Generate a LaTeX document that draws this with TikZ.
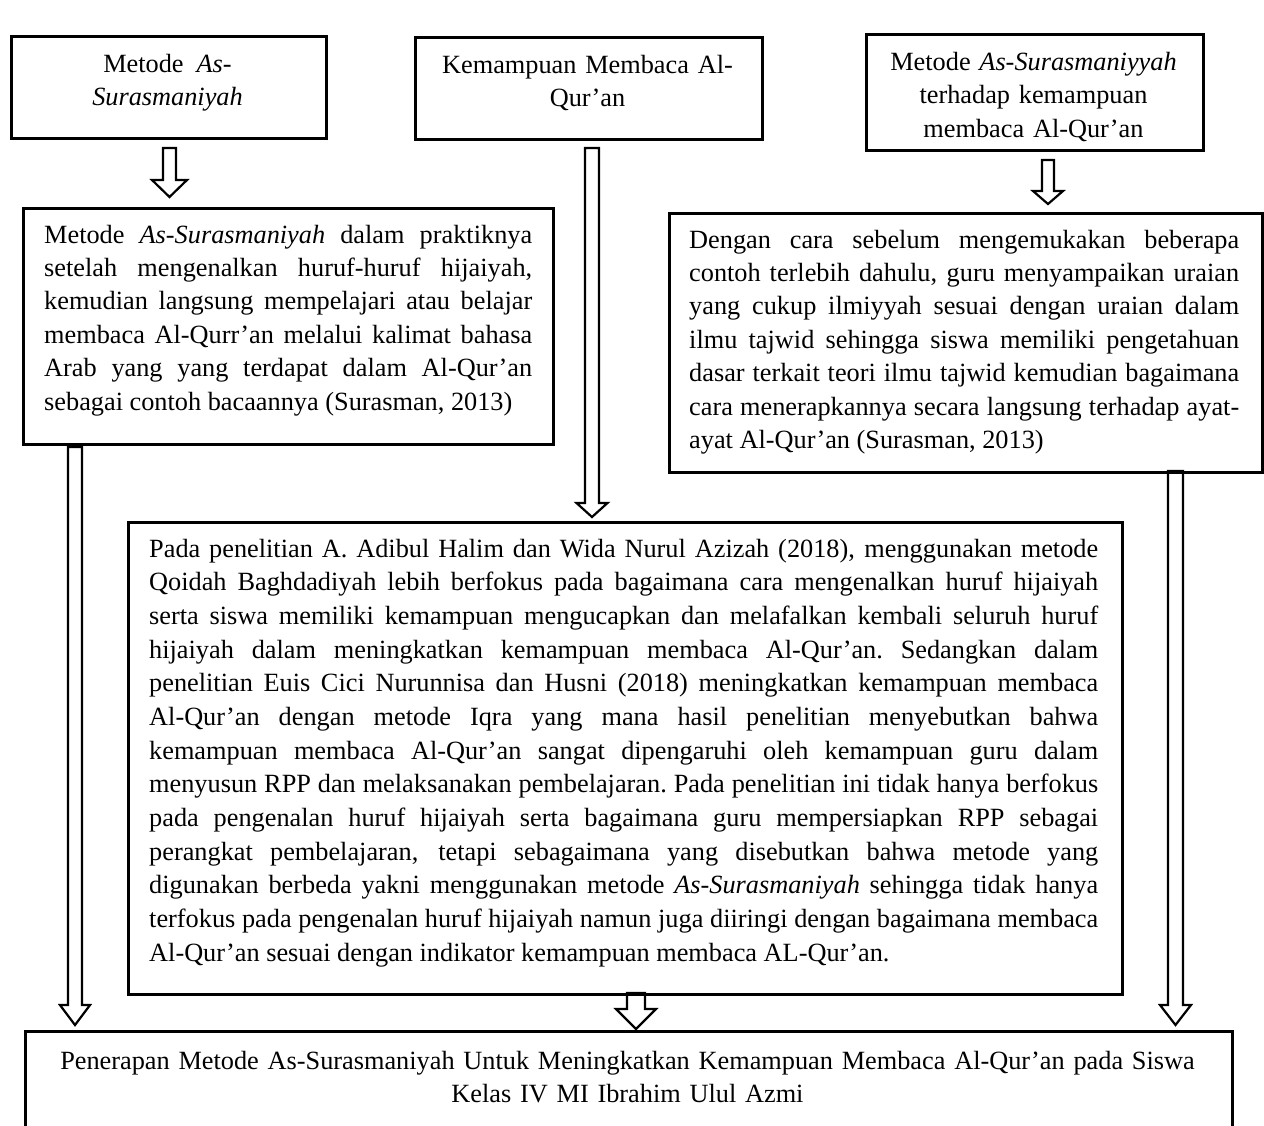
\documentclass[tikz,border=0pt]{standalone}
\usepackage{fontspec}
\setmainfont{Liberation Serif}
\usetikzlibrary{calc}
\newcommand\jsp{\spaceskip=0.25em plus 3em minus 0.1em\xspaceskip=\spaceskip}
\newcommand\jl[1]{\hbox to \hsize{\jsp\strut#1}}
\newcommand\jlast[1]{\hbox to \hsize{\spaceskip=0.25em\xspaceskip=\spaceskip\strut#1\hfil}}
\newcommand\cl[1]{\hbox to \hsize{\hfil\strut#1\hfil}}
\newcommand\blkarrow[5]{%
  \draw[barrow] let \p1=(#1), \p2=(#2) in
    (\x1-#3pt,\y1) -- (\x1+#3pt,\y1) -- (\x1+#3pt,\y2+#5pt) -- (\x1+#4pt,\y2+#5pt)
    -- (\x1,\y2) -- (\x1-#4pt,\y2+#5pt) -- (\x1-#3pt,\y2+#5pt) -- cycle;}
\tikzset{
  box/.style={draw, line width=2.8pt, inner sep=0pt, anchor=north west},
  barrow/.style={draw, fill=white, line width=2.2pt, line join=miter},
  txt/.style={inner sep=0pt, anchor=north west, font=\fontsize{26.3}{33.4}\selectfont},
  ctxt/.style={inner sep=0pt, anchor=north, font=\fontsize{26.3}{33.6}\selectfont},
}
\begin{document}
\begin{tikzpicture}[x=1pt,y=-1pt]
\fill[white] (0,0) rectangle (1264,1126);
\useasboundingbox (0,0) rectangle (1264,1126);
\clip (0,0) rectangle (1264,1126);

% arrow end points
\coordinate (a1s) at (169.5,148);  \coordinate (a1e) at (169.5,197);
\coordinate (a2s) at (592,148);    \coordinate (a2e) at (592,517);
\coordinate (a3s) at (1048,160);   \coordinate (a3e) at (1048,204);
\coordinate (a4s) at (75,447);     \coordinate (a4e) at (75,1025);
\coordinate (a5s) at (1175.5,471); \coordinate (a5e) at (1175.5,1025);
\coordinate (a6s) at (636,993);    \coordinate (a6e) at (636,1029);

\blkarrow{a1s}{a1e}{6.5}{17.5}{17}
\blkarrow{a2s}{a2e}{7}{15.5}{14}
\blkarrow{a3s}{a3e}{6}{15}{13}
\blkarrow{a4s}{a4e}{7}{15}{20}
\blkarrow{a5s}{a5e}{7.5}{15.5}{20}
\blkarrow{a6s}{a6e}{9}{20}{20}

% boxes
\node[box, minimum width=315pt, minimum height=102pt] (b1) at (10,35) {};
\node[box, minimum width=347pt, minimum height=102pt] (b2) at (414,36) {};
\node[box, minimum width=337pt, minimum height=116pt] (b3) at (865,33) {};
\node[box, minimum width=530pt, minimum height=236pt] (b4) at (22,207) {};
\node[box, minimum width=593pt, minimum height=259pt] (b5) at (668,212) {};
\node[box, minimum width=994pt, minimum height=472pt] (b6) at (127,521) {};
\node[box, minimum width=1207pt, minimum height=130pt] (b7) at (24,1030) {};

% texts
\node[ctxt, text width=300pt] (t1) at (167.5,48.5) {%
\cl{Metode\hspace{13pt}\textit{As-}}
\cl{\textit{Surasmaniyah}}};
\node[ctxt, text width=330pt] (t2) at (587.5,49.5) {%
\cl{Kemampuan Membaca Al-}
\cl{Qur’an}};
\node[ctxt, text width=330pt] (t3) at (1033.5,46.5) {%
\cl{Metode \textit{As-Surasmaniyyah}}
\cl{terhadap kemampuan}
\cl{membaca Al-Qur’an}};
\node[txt, text width=488pt] (t4) at (44,219.5) {%
\jl{Metode \textit{As-Surasmaniyah} dalam praktiknya}
\jl{setelah mengenalkan huruf-huruf hijaiyah,}
\jl{kemudian langsung mempelajari atau belajar}
\jl{membaca Al-Qurr’an melalui kalimat bahasa}
\jl{Arab yang yang terdapat dalam Al-Qur’an}
\jlast{sebagai contoh bacaannya (Surasman, 2013)}};
\node[txt, text width=550pt] (t5) at (689,224.5) {%
\jl{Dengan cara sebelum mengemukakan beberapa}
\jl{contoh terlebih dahulu, guru menyampaikan uraian}
\jl{yang cukup ilmiyyah sesuai dengan uraian dalam}
\jl{ilmu tajwid sehingga siswa memiliki pengetahuan}
\jl{dasar terkait teori ilmu tajwid kemudian bagaimana}
\jl{cara menerapkannya secara langsung terhadap ayat-}
\jlast{ayat Al-Qur’an (Surasman, 2013)}};
\node[txt, text width=949pt, font=\fontsize{26.3}{33.67}\selectfont] (t6) at (149,533.5) {%
\jl{Pada penelitian A. Adibul Halim dan Wida Nurul Azizah (2018), menggunakan metode}
\jl{Qoidah Baghdadiyah lebih berfokus pada bagaimana cara mengenalkan huruf hijaiyah}
\jl{serta siswa memiliki kemampuan mengucapkan dan melafalkan kembali seluruh huruf}
\jl{hijaiyah dalam meningkatkan kemampuan membaca Al-Qur’an. Sedangkan dalam}
\jl{penelitian Euis Cici Nurunnisa dan Husni (2018) meningkatkan kemampuan membaca}
\jl{Al-Qur’an dengan metode Iqra yang mana hasil penelitian menyebutkan bahwa}
\jl{kemampuan membaca Al-Qur’an sangat dipengaruhi oleh kemampuan guru dalam}
\jl{menyusun RPP dan melaksanakan pembelajaran. Pada penelitian ini tidak hanya berfokus}
\jl{pada pengenalan huruf hijaiyah serta bagaimana guru mempersiapkan RPP sebagai}
\jl{perangkat pembelajaran, tetapi sebagaimana yang disebutkan bahwa metode yang}
\jl{digunakan berbeda yakni menggunakan metode \textit{As-Surasmaniyah} sehingga tidak hanya}
\jl{terfokus pada pengenalan huruf hijaiyah namun juga diiringi dengan bagaimana membaca}
\jlast{Al-Qur’an sesuai dengan indikator kemampuan membaca AL-Qur’an.}};
\node[ctxt, text width=1180pt] (t7) at (627.5,1045.5) {%
\cl{Penerapan Metode As-Surasmaniyah Untuk Meningkatkan Kemampuan Membaca Al-Qur’an pada Siswa}
\cl{Kelas IV MI Ibrahim Ulul Azmi}};
\end{tikzpicture}
\end{document}
